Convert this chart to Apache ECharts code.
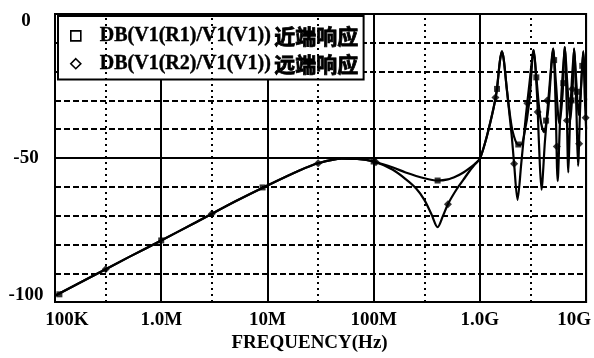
<!DOCTYPE html>
<html>
<head>
<meta charset="utf-8">
<script src="https://cdn.jsdelivr.net/npm/echarts@6/dist/echarts.min.js"></script>
<style>
html,body{margin:0;padding:0;background:#fff;}
#chart{width:594px;height:358px;}
</style>
</head>
<body>
<div id="chart"></div>
<script>
// ---- data ----
const xTickValues = [1e5, 1e6, 1e7, 1e8, 1e9, 1e10];
const xTickLabels = ['100K', '1.0M', '10M', '100M', '1.0G', '10G'];
const xDashedFreq = [3e5, 3e6, 3e7, 3e8, 3e9];
const yLabelValues = [0, -50, -100];

const nearName = 'DB(V1(R1)/V1(V1)) 近端响应';
const farName = 'DB(V1(R2)/V1(V1)) 远端响应';

const nearFreq = [1e5, 2e5, 5e5, 1e6, 2e6, 5e6, 1e7, 2e7, 3e7, 5e7, 7e7, 1e8,
  1.5e8, 2e8, 3e8, 4e8, 5e8, 6e8, 7e8, 8e8, 9e8, 1e9,
  1.16e9, 1.35e9, 1.44e9, 1.54e9, 1.61e9, 1.68e9, 1.79e9, 1.99e9, 2.22e9, 2.4e9, 2.58e9, 2.93e9,
  3.2e9, 3.4e9, 3.7e9, 4.0e9, 4.4e9, 4.9e9, 5.2e9, 5.6e9, 6.0e9, 6.3e9, 6.7e9, 7.1e9, 7.5e9,
  7.7e9, 8.1e9, 8.5e9, 9.0e9, 9.4e9, 9.7e9, 1e10];
const nearDb = [-97.8, -92, -84.3, -78.6, -72.8, -65, -59.5, -54.3, -51.8, -50.2, -50.3, -51.2,
  -53.2, -55, -57, -57.8, -57.4, -56.3, -55, -53.5, -52, -50.2,
  -42.6, -32.4, -26.7, -16.6, -13, -16, -25.7, -39, -45, -45.5, -43, -30,
  -12.5, -22, -36, -41, -33, -12, -24, -38, -28, -11.5, -26, -37, -24,
  -12, -24, -35, -24, -13, -22, -30];

const farFreq = [1e5, 2e5, 5e5, 1e6, 2e6, 5e6, 1e7, 2e7, 3e7, 5e7, 7e7, 1e8,
  1.5e8, 2e8, 2.5e8, 3e8, 3.5e8, 4e8, 4.5e8, 5e8, 6e8, 7e8, 8e8, 9e8, 1e9,
  1.16e9, 1.35e9, 1.44e9, 1.54e9, 1.61e9, 1.68e9, 1.79e9, 1.99e9, 2.1e9, 2.26e9, 2.45e9, 2.7e9, 2.93e9,
  3.2e9, 3.45e9, 3.6e9, 3.8e9, 4.1e9, 4.5e9, 4.9e9, 5.15e9, 5.4e9, 5.7e9, 6.3e9, 6.55e9, 6.8e9, 7.1e9,
  7.7e9, 8.1e9, 8.4e9, 8.8e9, 9.4e9, 9.7e9, 1e10];
const farDb = [-97.8, -92, -84.3, -78.6, -72.8, -65, -59.5, -54.3, -51.8, -50.2, -50.3, -51.2,
  -54, -57.3, -60.5, -64.5, -69.5, -74, -70, -66, -61, -57.5, -54.5, -52.2, -50.2,
  -42.6, -32.4, -26.7, -16.6, -13, -16, -26, -42, -52, -64.5, -52, -36, -24,
  -12.5, -28, -45, -61, -44, -26, -12, -30, -58, -36, -11.5, -30, -55, -34,
  -12, -33, -52.7, -32, -13, -28, -40];

const nearMarkFreq = [1.1e5, 1e6, 9e6, 1e8, 4e8, 1.45e9, 2.3e9, 3.4e9, 4.2e9, 5.0e9, 6.1e9, 7.3e9, 8.2e9, 9.2e9];
const nearMarkDb = [-97.3, -78.6, -60.2, -51.2, -57.8, -26, -45.3, -22, -37, -16, -24, -30, -27, -18];
const farMarkFreq = [3e5, 3e6, 3e7, 1.05e8, 5e8, 1.4e9, 2.1e9, 2.8e9, 3.5e9, 4.3e9, 5.3e9, 6.6e9, 7.4e9, 8.6e9, 9.9e9];
const farMarkDb = [-88.6, -69.3, -51.8, -51.5, -66, -29, -52, -31, -34, -30, -46, -37, -26, -45, -36];

// ---- chart ----
const FONT = "'Liberation Serif', 'Times New Roman', serif";
const CJK_FONT = "'Noto Sans CJK SC', sans-serif";
const zip = (a, b) => a.map((v, i) => [v, b[i]]);

const chart = echarts.init(document.getElementById('chart'), null, {renderer: 'canvas'});

const labelStyle = {fontFamily: FONT, fontWeight: 'bold', fontSize: 19, color: '#000'};

chart.setOption({
  backgroundColor: '#fff',
  animation: false,
  grid: {left: 55, right: 4, top: 14, bottom: 48, show: true, borderColor: '#000', borderWidth: 2, backgroundColor: 'transparent'},
  legend: {
    orient: 'vertical',
    left: 58, top: 16,
    backgroundColor: '#fff',
    borderColor: '#000', borderWidth: 2,
    padding: [9, 5, 5, 12],
    itemGap: 6,
    itemWidth: 10, itemHeight: 10,
    formatter: function (name) {
      const k = name.indexOf(' ');
      return '{a|' + name.slice(0, k) + '} {b|' + name.slice(k + 1) + '}';
    },
    textStyle: {
      padding: [0, 0, 0, 14],
      rich: {
        a: {fontFamily: FONT, fontWeight: 'bold', fontSize: 20, lineHeight: 23, color: '#000', textBorderColor: '#000', textBorderWidth: 0.4},
        b: {fontFamily: CJK_FONT, fontWeight: 'bold', fontSize: 21, lineHeight: 23, color: '#000', textBorderColor: '#000', textBorderWidth: 0.8}
      }
    },
    data: [
      {name: nearName, icon: 'rect', itemStyle: {color: '#fff', borderColor: '#000', borderWidth: 1.6}},
      {name: farName, icon: 'diamond', itemStyle: {color: '#fff', borderColor: '#000', borderWidth: 1.6}}
    ]
  },
  xAxis: {
    type: 'log', logBase: 10, min: 1e5, max: 1e10,
    name: 'FREQUENCY(Hz)', nameLocation: 'middle', nameGap: 30,
    nameTextStyle: Object.assign({padding: [0, 22, 0, 0]}, labelStyle),
    axisLine: {lineStyle: {color: '#000', width: 2}},
    axisTick: {show: false},
    splitLine: {show: true, lineStyle: {color: '#000', width: 2}},
    axisLabel: {
      margin: 8,
      showMinLabel: true, showMaxLabel: true,
      formatter: function (v) {
        const i = xTickValues.findIndex(t => Math.abs(Math.log10(t) - Math.log10(v)) < 1e-6);
        if (i < 0) return '';
        return i === 0 ? '{first|' + xTickLabels[i] + '}' : (i === xTickLabels.length - 1 ? '{last|' + xTickLabels[i] + '}' : '{n|' + xTickLabels[i] + '}');
      },
      rich: {
        first: Object.assign({padding: [0, 0, 0, 24]}, labelStyle),
        last: Object.assign({padding: [0, 24, 0, 0]}, labelStyle),
        n: Object.assign({}, labelStyle)
      }
    }
  },
  yAxis: {
    type: 'value', min: -100, max: 0, interval: 10,
    axisLine: {show: true, lineStyle: {color: '#000', width: 2}},
    axisTick: {show: false},
    splitLine: {show: true, lineStyle: {color: '#000', width: 2, type: [6, 3]}},
    axisLabel: {
      align: 'center', margin: 29,
      formatter: function (v) {
        if (!yLabelValues.includes(v)) return '';
        if (v === 0) return '{top|' + v + '}';
        if (v === -100) return '{bot|' + v + '}';
        return '{n|' + v + '}';
      },
      rich: {
        top: Object.assign({padding: [14, 0, 0, 0]}, labelStyle),
        bot: Object.assign({padding: [0, 0, 14, 0]}, labelStyle),
        n: Object.assign({}, labelStyle)
      }
    }
  },
  series: [
    {
      type: 'line', name: '_grid', data: [], z: 1, silent: true,
      markLine: {
        silent: true, symbol: 'none', label: {show: false},
        data: xDashedFreq.map(f => ({xAxis: f, lineStyle: {color: '#000', width: 2, type: [2, 4]}}))
          .concat([{yAxis: -50, lineStyle: {color: '#000', width: 2, type: 'solid'}}])
      }
    },
    {
      type: 'line', name: nearName, data: zip(nearFreq, nearDb), z: 3,
      showSymbol: false, smooth: 0.3, lineStyle: {color: '#000', width: 2.2}, itemStyle: {color: '#000'}
    },
    {
      type: 'line', name: farName, data: zip(farFreq, farDb), z: 3,
      showSymbol: false, smooth: 0.3, lineStyle: {color: '#000', width: 2.2}, itemStyle: {color: '#000'}
    },
    {
      type: 'scatter', name: nearName + ' markers', data: zip(nearMarkFreq, nearMarkDb), z: 4,
      symbol: 'rect', symbolSize: 6, itemStyle: {color: '#000'}
    },
    {
      type: 'scatter', name: farName + ' markers', data: zip(farMarkFreq, farMarkDb), z: 4,
      symbol: 'diamond', symbolSize: 8, itemStyle: {color: '#000'}
    }
  ]
});
</script>
</body>
</html>
